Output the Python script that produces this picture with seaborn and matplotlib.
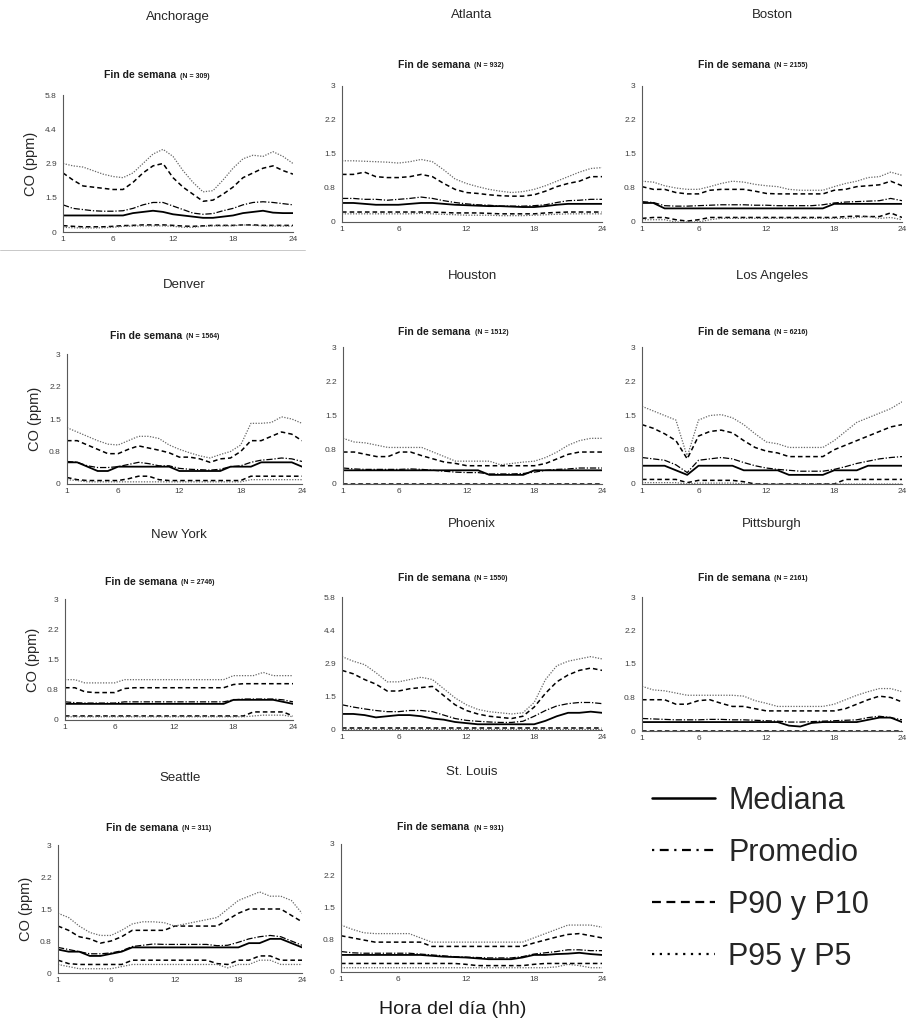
import matplotlib
matplotlib.use("Agg")
import matplotlib.pyplot as plt
import seaborn as sns
from matplotlib.lines import Line2D
from matplotlib.ticker import FixedLocator, MultipleLocator, AutoMinorLocator

sns.set_style("white")
plt.rcParams['font.family'] = ['Liberation Sans', 'DejaVu Sans']

hours = list(range(1, 25))

# Anchorage
anc_p95 = [2.9, 2.8, 2.75, 2.6, 2.45, 2.35, 2.3, 2.5, 2.9, 3.3, 3.5, 3.2, 2.6, 2.1, 1.7, 1.75, 2.2, 2.7, 3.1, 3.25, 3.2, 3.4, 3.2, 2.9]
anc_p90 = [2.5, 2.2, 1.95, 1.9, 1.85, 1.8, 1.8, 2.1, 2.5, 2.8, 2.9, 2.3, 1.9, 1.6, 1.3, 1.35, 1.6, 1.9, 2.3, 2.5, 2.7, 2.8, 2.6, 2.45]
anc_mean = [1.15, 1.0, 0.95, 0.9, 0.88, 0.88, 0.9, 1.0, 1.15, 1.25, 1.25, 1.1, 0.95, 0.8, 0.75, 0.78, 0.9, 1.0, 1.15, 1.25, 1.28, 1.25, 1.2, 1.15]
anc_med = [0.7, 0.7, 0.7, 0.7, 0.7, 0.7, 0.7, 0.8, 0.85, 0.9, 0.85, 0.75, 0.7, 0.65, 0.6, 0.6, 0.65, 0.7, 0.8, 0.85, 0.9, 0.82, 0.8, 0.8]
anc_p10 = [0.27, 0.24, 0.22, 0.22, 0.22, 0.24, 0.27, 0.28, 0.3, 0.3, 0.3, 0.28, 0.25, 0.24, 0.26, 0.28, 0.28, 0.28, 0.3, 0.3, 0.28, 0.28, 0.28, 0.28]
anc_p5 = [0.2, 0.18, 0.17, 0.17, 0.18, 0.2, 0.24, 0.25, 0.26, 0.26, 0.26, 0.24, 0.2, 0.2, 0.24, 0.26, 0.26, 0.26, 0.3, 0.28, 0.26, 0.25, 0.25, 0.25]

# Atlanta
atl_p95 = [1.35, 1.35, 1.34, 1.33, 1.32, 1.3, 1.33, 1.38, 1.33, 1.15, 0.95, 0.85, 0.78, 0.72, 0.68, 0.65, 0.67, 0.72, 0.8, 0.9, 1.0, 1.1, 1.18, 1.2]
atl_p90 = [1.05, 1.05, 1.1, 1.0, 0.98, 0.98, 1.0, 1.05, 1.0, 0.85, 0.72, 0.65, 0.63, 0.6, 0.58, 0.57, 0.57, 0.6, 0.68, 0.78, 0.85, 0.9, 1.0, 1.0]
atl_mean = [0.52, 0.52, 0.5, 0.5, 0.48, 0.5, 0.52, 0.55, 0.52, 0.47, 0.43, 0.4, 0.38, 0.37, 0.35, 0.35, 0.35, 0.36, 0.38, 0.43, 0.47, 0.48, 0.5, 0.5]
atl_med = [0.42, 0.42, 0.4, 0.38, 0.38, 0.38, 0.4, 0.42, 0.42, 0.4, 0.38, 0.37, 0.36, 0.35, 0.35, 0.34, 0.33, 0.33, 0.35, 0.38, 0.4, 0.4, 0.4, 0.4]
atl_p10 = [0.22, 0.22, 0.22, 0.22, 0.22, 0.22, 0.22, 0.22, 0.22, 0.21, 0.2, 0.2, 0.2, 0.19, 0.18, 0.18, 0.18, 0.18, 0.2, 0.21, 0.22, 0.22, 0.22, 0.22]
atl_p5 = [0.18, 0.18, 0.18, 0.18, 0.18, 0.18, 0.18, 0.19, 0.18, 0.17, 0.16, 0.15, 0.15, 0.15, 0.14, 0.14, 0.14, 0.15, 0.16, 0.17, 0.18, 0.18, 0.18, 0.18]

# Boston
bos_p95 = [0.9, 0.88, 0.8, 0.75, 0.72, 0.72, 0.78, 0.85, 0.9, 0.88, 0.83, 0.8, 0.78, 0.72, 0.7, 0.7, 0.7, 0.78, 0.85, 0.9, 0.98, 1.0, 1.1, 1.03]
bos_p90 = [0.78, 0.72, 0.72, 0.65, 0.62, 0.62, 0.7, 0.72, 0.72, 0.72, 0.68, 0.63, 0.62, 0.62, 0.62, 0.62, 0.62, 0.7, 0.72, 0.78, 0.8, 0.82, 0.9, 0.8]
bos_mean = [0.45, 0.43, 0.36, 0.35, 0.35, 0.36, 0.37, 0.38, 0.38, 0.38, 0.37, 0.37, 0.36, 0.36, 0.36, 0.36, 0.38, 0.42, 0.44, 0.45, 0.46, 0.47, 0.52, 0.47]
bos_med = [0.42, 0.42, 0.3, 0.3, 0.3, 0.3, 0.3, 0.3, 0.3, 0.3, 0.3, 0.3, 0.3, 0.3, 0.3, 0.3, 0.3, 0.4, 0.4, 0.4, 0.4, 0.4, 0.4, 0.4]
bos_p10 = [0.08, 0.1, 0.1, 0.05, 0.02, 0.05, 0.1, 0.1, 0.1, 0.1, 0.1, 0.1, 0.1, 0.1, 0.1, 0.1, 0.1, 0.1, 0.12, 0.13, 0.12, 0.12, 0.2, 0.1]
bos_p5 = [0.05, 0.05, 0.05, 0.0, 0.0, 0.0, 0.05, 0.08, 0.08, 0.08, 0.08, 0.08, 0.08, 0.08, 0.08, 0.08, 0.08, 0.08, 0.08, 0.1, 0.12, 0.08, 0.1, 0.05]

# Denver
den_p95 = [1.3, 1.2, 1.1, 1.0, 0.92, 0.9, 1.0, 1.1, 1.1, 1.05, 0.9, 0.8, 0.72, 0.65, 0.6, 0.68, 0.75, 0.9, 1.4, 1.4, 1.42, 1.55, 1.5, 1.4]
den_p90 = [1.0, 1.0, 0.9, 0.8, 0.7, 0.7, 0.8, 0.88, 0.83, 0.78, 0.72, 0.62, 0.62, 0.58, 0.5, 0.58, 0.6, 0.75, 1.0, 1.0, 1.1, 1.2, 1.15, 1.0]
den_mean = [0.52, 0.5, 0.42, 0.38, 0.38, 0.4, 0.45, 0.5, 0.47, 0.42, 0.42, 0.36, 0.34, 0.33, 0.32, 0.34, 0.4, 0.42, 0.5, 0.55, 0.57, 0.6, 0.58, 0.52]
den_med = [0.5, 0.5, 0.4, 0.3, 0.3, 0.4, 0.4, 0.4, 0.4, 0.4, 0.4, 0.3, 0.3, 0.3, 0.3, 0.3, 0.4, 0.4, 0.4, 0.5, 0.5, 0.5, 0.5, 0.4]
den_p10 = [0.15, 0.1, 0.08, 0.08, 0.08, 0.08, 0.12, 0.18, 0.18, 0.1, 0.08, 0.08, 0.08, 0.08, 0.08, 0.08, 0.08, 0.08, 0.18, 0.18, 0.18, 0.18, 0.18, 0.18]
den_p5 = [0.1, 0.08, 0.05, 0.05, 0.05, 0.05, 0.05, 0.05, 0.05, 0.05, 0.05, 0.05, 0.05, 0.05, 0.05, 0.05, 0.05, 0.05, 0.1, 0.1, 0.1, 0.1, 0.1, 0.1]

# Houston
hou_p95 = [1.0, 0.92, 0.9, 0.85, 0.8, 0.8, 0.8, 0.8, 0.7, 0.6, 0.5, 0.5, 0.5, 0.5, 0.42, 0.45, 0.48, 0.5, 0.58, 0.7, 0.85, 0.95, 1.0, 1.0]
hou_p90 = [0.7, 0.7, 0.65, 0.6, 0.6, 0.7, 0.7, 0.62, 0.55, 0.48, 0.45, 0.4, 0.4, 0.4, 0.4, 0.4, 0.4, 0.4, 0.45, 0.55, 0.65, 0.7, 0.7, 0.7]
hou_mean = [0.35, 0.33, 0.32, 0.32, 0.32, 0.32, 0.33, 0.32, 0.3, 0.28, 0.26, 0.25, 0.25, 0.22, 0.22, 0.22, 0.23, 0.26, 0.3, 0.32, 0.33, 0.35, 0.35, 0.35]
hou_med = [0.3, 0.3, 0.3, 0.3, 0.3, 0.3, 0.3, 0.3, 0.3, 0.3, 0.3, 0.3, 0.3, 0.2, 0.2, 0.2, 0.2, 0.3, 0.3, 0.3, 0.3, 0.3, 0.3, 0.3]
hou_p10 = [0.01, 0.01, 0.01, 0.01, 0.01, 0.01, 0.01, 0.01, 0.01, 0.01, 0.01, 0.01, 0.01, 0.01, 0.01, 0.01, 0.01, 0.01, 0.01, 0.01, 0.01, 0.01, 0.01, 0.01]
hou_p5 = [0.0, 0.0, 0.0, 0.0, 0.0, 0.0, 0.0, 0.0, 0.0, 0.0, 0.0, 0.0, 0.0, 0.0, 0.0, 0.0, 0.0, 0.0, 0.0, 0.0, 0.0, 0.0, 0.0, 0.0]

# Los Angeles
la_p95 = [1.7, 1.6, 1.5, 1.4, 0.6, 1.4, 1.5, 1.52, 1.45, 1.3, 1.1, 0.92, 0.88, 0.8, 0.8, 0.8, 0.8, 0.95, 1.15, 1.35, 1.45, 1.55, 1.65, 1.8]
la_p90 = [1.3, 1.22, 1.1, 0.95, 0.55, 1.05, 1.15, 1.18, 1.12, 0.95, 0.8, 0.72, 0.68, 0.6, 0.6, 0.6, 0.6, 0.75, 0.85, 0.95, 1.05, 1.15, 1.25, 1.3]
la_mean = [0.58, 0.55, 0.52, 0.42, 0.25, 0.52, 0.55, 0.58, 0.55, 0.47, 0.4, 0.35, 0.32, 0.3, 0.28, 0.28, 0.28, 0.32, 0.38, 0.45, 0.5, 0.55, 0.58, 0.6]
la_med = [0.4, 0.4, 0.4, 0.3, 0.2, 0.4, 0.4, 0.4, 0.4, 0.3, 0.3, 0.3, 0.3, 0.2, 0.2, 0.2, 0.2, 0.3, 0.3, 0.3, 0.4, 0.4, 0.4, 0.4]
la_p10 = [0.1, 0.1, 0.1, 0.1, 0.03, 0.08, 0.08, 0.08, 0.08, 0.05, 0.0, 0.0, 0.0, 0.0, 0.0, 0.0, 0.0, 0.0, 0.1, 0.1, 0.1, 0.1, 0.1, 0.1]
la_p5 = [0.03, 0.03, 0.03, 0.03, 0.0, 0.02, 0.02, 0.02, 0.02, 0.0, 0.0, 0.0, 0.0, 0.0, 0.0, 0.0, 0.0, 0.0, 0.0, 0.0, 0.0, 0.0, 0.0, 0.0]

# New York
ny_p95 = [1.0, 1.0, 0.92, 0.92, 0.92, 0.92, 1.0, 1.0, 1.0, 1.0, 1.0, 1.0, 1.0, 1.0, 1.0, 1.0, 1.0, 1.1, 1.1, 1.1, 1.18, 1.1, 1.1, 1.1]
ny_p90 = [0.8, 0.8, 0.7, 0.68, 0.68, 0.68, 0.78, 0.8, 0.8, 0.8, 0.8, 0.8, 0.8, 0.8, 0.8, 0.8, 0.8, 0.88, 0.9, 0.9, 0.9, 0.9, 0.9, 0.9]
ny_mean = [0.45, 0.43, 0.42, 0.42, 0.42, 0.42, 0.45, 0.45, 0.45, 0.45, 0.45, 0.45, 0.45, 0.45, 0.45, 0.45, 0.45, 0.5, 0.52, 0.52, 0.52, 0.52, 0.5, 0.45]
ny_med = [0.4, 0.4, 0.4, 0.4, 0.4, 0.4, 0.4, 0.4, 0.4, 0.4, 0.4, 0.4, 0.4, 0.4, 0.4, 0.4, 0.4, 0.5, 0.5, 0.5, 0.5, 0.5, 0.45, 0.4]
ny_p10 = [0.1, 0.1, 0.1, 0.1, 0.1, 0.1, 0.1, 0.1, 0.1, 0.1, 0.1, 0.1, 0.1, 0.1, 0.1, 0.1, 0.1, 0.1, 0.1, 0.2, 0.2, 0.2, 0.2, 0.1]
ny_p5 = [0.08, 0.08, 0.08, 0.08, 0.08, 0.08, 0.08, 0.08, 0.08, 0.08, 0.08, 0.08, 0.08, 0.08, 0.08, 0.08, 0.08, 0.08, 0.08, 0.1, 0.12, 0.12, 0.12, 0.08]

# Phoenix
phx_p95 = [3.2, 3.0, 2.85, 2.5, 2.1, 2.1, 2.2, 2.3, 2.2, 1.8, 1.4, 1.1, 0.9, 0.8, 0.75, 0.7, 0.75, 1.2, 2.2, 2.8, 3.0, 3.1, 3.2, 3.1]
phx_p90 = [2.6, 2.45, 2.2, 2.0, 1.7, 1.7, 1.8, 1.85, 1.9, 1.5, 1.1, 0.85, 0.7, 0.6, 0.55, 0.5, 0.6, 1.0, 1.6, 2.1, 2.4, 2.6, 2.7, 2.6]
phx_mean = [1.1, 1.0, 0.92, 0.85, 0.8, 0.8, 0.85, 0.85, 0.8, 0.65, 0.5, 0.42, 0.38, 0.35, 0.33, 0.33, 0.38, 0.6, 0.85, 1.05, 1.15, 1.2, 1.2, 1.15]
phx_med = [0.7, 0.7, 0.65, 0.55, 0.6, 0.65, 0.65, 0.6, 0.5, 0.45, 0.35, 0.3, 0.25, 0.25, 0.25, 0.25, 0.25, 0.25, 0.4, 0.6, 0.75, 0.75, 0.8, 0.75]
phx_p10 = [0.1, 0.1, 0.1, 0.1, 0.1, 0.1, 0.1, 0.1, 0.1, 0.1, 0.1, 0.1, 0.1, 0.1, 0.1, 0.1, 0.1, 0.1, 0.1, 0.1, 0.1, 0.1, 0.1, 0.1]
phx_p5 = [0.05, 0.05, 0.05, 0.05, 0.05, 0.05, 0.05, 0.05, 0.05, 0.05, 0.05, 0.05, 0.05, 0.05, 0.05, 0.05, 0.05, 0.05, 0.05, 0.05, 0.05, 0.05, 0.05, 0.05]

# Pittsburgh
pit_p95 = [1.0, 0.92, 0.9, 0.85, 0.8, 0.8, 0.8, 0.8, 0.8, 0.78, 0.68, 0.62, 0.55, 0.55, 0.55, 0.55, 0.55, 0.6, 0.7, 0.8, 0.88, 0.95, 0.95, 0.88]
pit_p90 = [0.7, 0.7, 0.7, 0.6, 0.6, 0.68, 0.7, 0.62, 0.55, 0.55, 0.5, 0.45, 0.45, 0.45, 0.45, 0.45, 0.45, 0.45, 0.5, 0.6, 0.7, 0.78, 0.75, 0.65]
pit_mean = [0.28, 0.27, 0.26, 0.25, 0.25, 0.25, 0.26, 0.26, 0.25, 0.25, 0.24, 0.23, 0.22, 0.2, 0.2, 0.21, 0.22, 0.23, 0.24, 0.25, 0.3, 0.33, 0.3, 0.25]
pit_med = [0.2, 0.2, 0.2, 0.2, 0.2, 0.2, 0.2, 0.2, 0.2, 0.2, 0.2, 0.2, 0.2, 0.12, 0.1, 0.18, 0.2, 0.2, 0.2, 0.2, 0.25, 0.3, 0.3, 0.2]
pit_p10 = [0.01, 0.01, 0.01, 0.01, 0.01, 0.01, 0.01, 0.01, 0.01, 0.01, 0.01, 0.01, 0.01, 0.01, 0.01, 0.01, 0.01, 0.01, 0.01, 0.01, 0.01, 0.01, 0.01, 0.01]
pit_p5 = [0.0, 0.0, 0.0, 0.0, 0.0, 0.0, 0.0, 0.0, 0.0, 0.0, 0.0, 0.0, 0.0, 0.0, 0.0, 0.0, 0.0, 0.0, 0.0, 0.0, 0.0, 0.0, 0.0, 0.0]

# Seattle
sea_p95 = [1.4, 1.3, 1.1, 0.95, 0.88, 0.88, 1.0, 1.15, 1.2, 1.2, 1.18, 1.1, 1.15, 1.2, 1.25, 1.3, 1.5, 1.7, 1.8, 1.9, 1.8, 1.8, 1.7, 1.4]
sea_p90 = [1.1, 1.0, 0.85, 0.8, 0.7, 0.75, 0.85, 1.0, 1.0, 1.0, 1.0, 1.1, 1.1, 1.1, 1.1, 1.1, 1.25, 1.4, 1.5, 1.5, 1.5, 1.5, 1.35, 1.2]
sea_mean = [0.6, 0.55, 0.5, 0.45, 0.45, 0.47, 0.52, 0.62, 0.65, 0.68, 0.67, 0.67, 0.67, 0.67, 0.67, 0.64, 0.65, 0.72, 0.8, 0.85, 0.88, 0.85, 0.75, 0.65]
sea_med = [0.55, 0.5, 0.5, 0.4, 0.4, 0.45, 0.5, 0.6, 0.6, 0.6, 0.6, 0.6, 0.6, 0.6, 0.6, 0.6, 0.6, 0.6, 0.7, 0.7, 0.8, 0.8, 0.7, 0.6]
sea_p10 = [0.3, 0.22, 0.2, 0.2, 0.2, 0.2, 0.2, 0.3, 0.3, 0.3, 0.3, 0.3, 0.3, 0.3, 0.3, 0.22, 0.2, 0.3, 0.3, 0.4, 0.4, 0.3, 0.3, 0.3]
sea_p5 = [0.2, 0.15, 0.1, 0.1, 0.1, 0.1, 0.15, 0.2, 0.2, 0.2, 0.2, 0.2, 0.2, 0.2, 0.2, 0.2, 0.12, 0.2, 0.2, 0.3, 0.3, 0.2, 0.2, 0.2]

# St. Louis
stl_p95 = [1.1, 1.0, 0.92, 0.9, 0.9, 0.9, 0.9, 0.8, 0.7, 0.7, 0.7, 0.7, 0.7, 0.7, 0.7, 0.7, 0.7, 0.8, 0.9, 1.0, 1.1, 1.1, 1.1, 1.05]
stl_p90 = [0.85, 0.8, 0.75, 0.7, 0.7, 0.7, 0.7, 0.7, 0.6, 0.6, 0.6, 0.6, 0.6, 0.6, 0.6, 0.6, 0.6, 0.68, 0.75, 0.82, 0.88, 0.9, 0.85, 0.8]
stl_mean = [0.48, 0.45, 0.44, 0.44, 0.44, 0.44, 0.44, 0.42, 0.4, 0.38, 0.36, 0.35, 0.34, 0.33, 0.33, 0.33, 0.36, 0.42, 0.45, 0.48, 0.52, 0.52, 0.5, 0.5]
stl_med = [0.4, 0.4, 0.4, 0.4, 0.4, 0.4, 0.4, 0.4, 0.38, 0.36, 0.35, 0.34, 0.32, 0.3, 0.3, 0.3, 0.34, 0.4, 0.4, 0.42, 0.43, 0.45, 0.42, 0.4]
stl_p10 = [0.2, 0.2, 0.2, 0.2, 0.2, 0.2, 0.2, 0.2, 0.2, 0.2, 0.2, 0.18, 0.15, 0.15, 0.15, 0.15, 0.15, 0.18, 0.2, 0.2, 0.2, 0.2, 0.2, 0.2]
stl_p5 = [0.1, 0.1, 0.1, 0.1, 0.1, 0.1, 0.1, 0.1, 0.1, 0.1, 0.1, 0.1, 0.1, 0.1, 0.1, 0.1, 0.1, 0.1, 0.1, 0.12, 0.18, 0.15, 0.1, 0.1]

# panel layout in pixels: name, N, y-max, left, right, top, bottom, title y, subtitle y, ylabel?
W, H = 907, 1029
panels = [
    ("Anchorage", 309, 5.8, 63, 293, 95, 232, 17, 75, True,
     [anc_med, anc_mean, anc_p90, anc_p10, anc_p95, anc_p5]),
    ("Atlanta", 932, 3, 342, 602, 86, 222, 15, 65, False,
     [atl_med, atl_mean, atl_p90, atl_p10, atl_p95, atl_p5]),
    ("Boston", 2155, 3, 642, 902, 86, 222, 15, 65, False,
     [bos_med, bos_mean, bos_p90, bos_p10, bos_p95, bos_p5]),
    ("Denver", 1564, 3, 67, 302, 354, 484, 285, 336, True,
     [den_med, den_mean, den_p90, den_p10, den_p95, den_p5]),
    ("Houston", 1512, 3, 343, 602, 347, 484, 276, 332, False,
     [hou_med, hou_mean, hou_p90, hou_p10, hou_p95, hou_p5]),
    ("Los Angeles", 6216, 3, 642, 902, 347, 484, 276, 332, False,
     [la_med, la_mean, la_p90, la_p10, la_p95, la_p5]),
    ("New York", 2746, 3, 65, 293, 599, 720, 535, 582, True,
     [ny_med, ny_mean, ny_p90, ny_p10, ny_p95, ny_p5]),
    ("Phoenix", 1550, 5.8, 342, 602, 597, 730, 524, 578, False,
     [phx_med, phx_mean, phx_p90, phx_p10, phx_p95, phx_p5]),
    ("Pittsburgh", 2161, 3, 642, 902, 597, 731, 524, 578, False,
     [pit_med, pit_mean, pit_p90, pit_p10, pit_p95, pit_p5]),
    ("Seattle", 311, 3, 58, 302, 845, 973, 778, 828, True,
     [sea_med, sea_mean, sea_p90, sea_p10, sea_p95, sea_p5]),
    ("St. Louis", 931, 3, 341, 602, 844, 972, 772, 827, False,
     [stl_med, stl_mean, stl_p90, stl_p10, stl_p95, stl_p5]),
]

styles = [
    dict(color='black', lw=1.3, ls='-'),
    dict(color='black', lw=0.9, ls=(0, (5, 1.5, 1, 1.5))),
    dict(color='black', lw=1.1, ls=(0, (3, 2))),
    dict(color='black', lw=1.1, ls=(0, (3, 2))),
    dict(color='0.4', lw=0.9, ls=(0, (1, 1.2))),
    dict(color='0.4', lw=0.9, ls=(0, (1, 1.2))),
]

fig = plt.figure(figsize=(W / 100, H / 100), dpi=100)

for name, n, ymax, l, r, t, b, ty, sy, ylab, series in panels:
    ax = fig.add_axes([l / W, 1 - b / H, (r - l) / W, (b - t) / H])
    for vals, st in zip(series, styles):
        sns.lineplot(x=hours, y=vals, ax=ax, color=st['color'],
                     linewidth=st['lw'], linestyle=st['ls'])
    ax.set_xlim(1, 24)
    ax.set_ylim(0, ymax)
    ax.set_xticks([1, 6, 12, 18, 24])
    ax.xaxis.set_minor_locator(MultipleLocator(1))
    if ymax == 3:
        ax.set_yticks([0, 0.75, 1.5, 2.25, 3])
        ax.set_yticklabels(["0", "0.8", "1.5", "2.2", "3"])
    else:
        ax.set_yticks([0, 1.45, 2.9, 4.35, 5.8])
        ax.set_yticklabels(["0", "1.5", "2.9", "4.4", "5.8"])
    ax.yaxis.set_minor_locator(AutoMinorLocator(8))
    for s in ['top', 'right']:
        ax.spines[s].set_visible(False)
    for s in ['left', 'bottom']:
        ax.spines[s].set_color('0.35')
        ax.spines[s].set_linewidth(0.8)
    ax.tick_params(axis='both', which='major', length=3, width=0.6,
                   labelsize=6, colors='0.35', labelcolor='0.25', pad=1.5)
    ax.tick_params(axis='both', which='minor', length=1.5, width=0.5, colors='0.45')
    ax.tick_params(axis='x', direction='inout')
    ax.set_xlabel("")
    ax.set_ylabel("CO (ppm)" if ylab else "", fontsize=10.5, labelpad=5)

    cx = (l + r) / 2 / W
    fig.text(cx, 1 - ty / H, name, ha='center', va='center', fontsize=9.5, color='0.15')
    fig.text(cx - 2 / W, 1 - sy / H, "Fin de semana", ha='right', va='center',
             fontsize=7.5, fontweight='bold', color='0.1', fontstretch='condensed')
    fig.text(cx + 2 / W, 1 - (sy + 1) / H, f"(N = {n})", ha='left', va='center',
             fontsize=5, fontweight='bold', color='0.1')

# thin separator under the first panel
fig.add_artist(Line2D([0, 305 / W], [1 - 250 / H, 1 - 250 / H], color='0.75', lw=0.6))

fig.text(453 / W, 1 - 1010 / H, "Hora del día (hh)", ha='center', va='center',
         fontsize=14, color='0.1')

handles = [Line2D([], [], color='black', lw=1.8, ls='-'),
           Line2D([], [], color='black', lw=1.6, ls=(0, (1, 2.5, 4, 2.5))),
           Line2D([], [], color='black', lw=1.6, ls=(0, (4, 2.5))),
           Line2D([], [], color='black', lw=1.6, ls=(0, (1, 2.5)))]
labels = ["Mediana", "Promedio", "P90 y P10", "P95 y P5"]
fig.legend(handles, labels, loc='upper left', bbox_to_anchor=(652 / W, 1 - 786 / H),
           frameon=False, fontsize=22, handlelength=2.05, handletextpad=0.45,
           labelspacing=0.72, borderpad=0, borderaxespad=0)

fig.savefig("out.png", dpi=100)
